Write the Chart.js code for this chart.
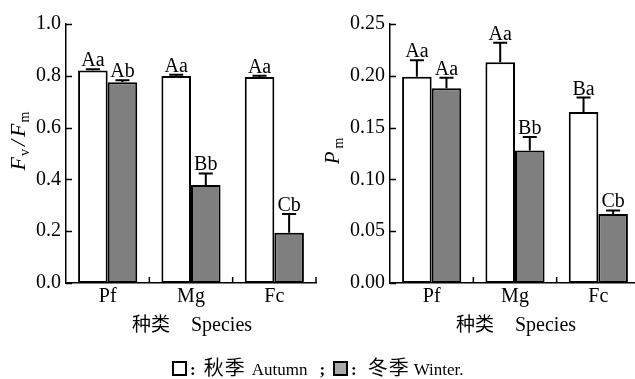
<!DOCTYPE html>
<html>
<head>
<meta charset="utf-8">
<script src="https://cdn.jsdelivr.net/npm/chart.js@4.4.0/dist/chart.umd.min.js"></script>
<style>
  body { margin: 0; width: 635px; height: 379px; overflow: hidden; background: #fff; position: relative; }
  #c1 { position: absolute; left: 0; top: 0; }
  #c2 { position: absolute; left: 324px; top: 0; }
  #legend { position: absolute; left: 172px; top: 352px; line-height: 20px;
            font: 17px "Liberation Serif"; color: #000; white-space: nowrap; }
  .box { display: inline-block; width: 11px; height: 11px; border: 2px solid #000; vertical-align: -1px; background: #fff; }
  .box.gray { background: #aaaaaa; }
  .cjk { font-family: "Noto Sans CJK SC"; font-size: 20px; letter-spacing: 1px; }
  b { font-weight: bold; }
</style>
</head>
<body>
<canvas id="c1" width="320" height="379"></canvas>
<canvas id="c2" width="320" height="379"></canvas>
<div id="legend"><span class="box"></span><b style="margin-left:3px">:</b><span class="cjk" style="margin-left:8px">秋季</span><span style="margin-left:6px">Autumn</span><b style="margin-left:12px">;</b><span class="box gray" style="margin-left:8px"></span><b style="margin-left:3px">:</b><span class="cjk" style="margin-left:11px">冬季</span><span style="margin-left:4px">Winter.</span></div>

<script>
// 数据
const species = ["Pf", "Mg", "Fc"];

const fvfmAutumn = [0.820, 0.799, 0.795];
const fvfmAutumnErr = [0.005, 0.005, 0.005];
const fvfmWinter = [0.775, 0.378, 0.194];
const fvfmWinterErr = [0.008, 0.045, 0.072];
const fvfmAutumnSig = ["Aa", "Aa", "Aa"];
const fvfmWinterSig = ["Ab", "Bb", "Cb"];

const pmAutumn = [0.199, 0.213, 0.165];
const pmAutumnErr = [0.016, 0.019, 0.014];
const pmWinter = [0.188, 0.128, 0.0665];
const pmWinterErr = [0.010, 0.013, 0.0035];
const pmAutumnSig = ["Aa", "Aa", "Ba"];
const pmWinterSig = ["Aa", "Bb", "Cb"];

const serif = "Liberation Serif";

// error bars, letters, inner ticks, axis titles
const extras = {
  id: "extras",
  afterDatasetsDraw(chart, args, opts) {
    const ctx = chart.ctx;
    const ys = chart.scales.y, xs = chart.scales.x;
    const area = chart.chartArea;
    ctx.save();
    ctx.strokeStyle = "#000";
    ctx.fillStyle = "#000";

    chart.data.datasets.forEach((ds, i) => {
      const meta = chart.getDatasetMeta(i);
      meta.data.forEach((bar, j) => {
        const top = ys.getPixelForValue(ds.data[j] + opts.errs[i][j]);
        ctx.lineWidth = 2;
        ctx.beginPath();
        ctx.moveTo(bar.x, bar.y);
        ctx.lineTo(bar.x, top);
        ctx.moveTo(bar.x - 7, top);
        ctx.lineTo(bar.x + 7, top);
        ctx.stroke();
        ctx.font = "20px " + serif;
        ctx.textAlign = "center";
        ctx.textBaseline = "alphabetic";
        ctx.fillText(opts.sigs[i][j], bar.x, top - 3);
      });
    });

    // inner ticks
    ctx.lineWidth = 1.5;
    ctx.beginPath();
    ys.ticks.forEach(t => {
      const y = Math.round(ys.getPixelForValue(t.value)) + 0.5;
      ctx.moveTo(area.left, y);
      ctx.lineTo(area.left + 6, y);
    });
    for (let i = 0; i < species.length; i++) {
      const x = i < species.length - 1
        ? (xs.getPixelForTick(i) + xs.getPixelForTick(i + 1)) / 2
        : area.right;
      ctx.moveTo(x, area.bottom);
      ctx.lineTo(x, area.bottom - 6);
    }
    ctx.stroke();

    // x title
    const cx = (area.left + area.right) / 2;
    ctx.textBaseline = "alphabetic";
    ctx.textAlign = "left";
    ctx.font = "19px 'Noto Sans CJK SC'";
    const w1 = ctx.measureText("种类").width;
    ctx.font = "20px " + serif;
    const w2 = ctx.measureText("Species").width;
    const gap = 21;
    let x0 = cx - (w1 + gap + w2) / 2 + 1;
    ctx.font = "19px 'Noto Sans CJK SC'";
    ctx.fillText("种类", x0, 331);
    ctx.font = "20px " + serif;
    ctx.fillText("Species", x0 + w1 + gap, 331);

    // y title with subscripts
    ctx.translate(opts.titleX, opts.titleY);
    ctx.rotate(-Math.PI / 2);
    let total = 0;
    opts.title.forEach(p => { ctx.font = p.f; total += ctx.measureText(p.t).width + (p.g || 0); });
    let px = -total / 2;
    opts.title.forEach(p => {
      ctx.font = p.f;
      ctx.fillText(p.t, px, p.sub ? 4 : 0);
      px += ctx.measureText(p.t).width + (p.g || 0);
    });
    ctx.restore();
  }
};

function makeChart(id, autumn, winter, errs, sigs, max, step, digits, title, titleX, titleY) {
  return new Chart(document.getElementById(id), {
    type: "bar",
    data: {
      labels: species,
      datasets: [
        { label: "Autumn", data: autumn, backgroundColor: "#ffffff", borderColor: "#000", borderWidth: 2,
          borderSkipped: false, categoryPercentage: 0.71, barPercentage: 1.0 },
        { label: "Winter", data: winter, backgroundColor: "#7f7f7f", borderColor: "#000", borderWidth: 2,
          borderSkipped: false, categoryPercentage: 0.71, barPercentage: 1.0 }
      ]
    },
    options: {
      responsive: false,
      animation: false,
      layout: { padding: { top: 24, right: 4, left: 0, bottom: 0 } },
      plugins: {
        legend: { display: false },
        tooltip: { enabled: false },
        extras: { errs: errs, sigs: sigs, title: title, titleX: titleX, titleY: titleY }
      },
      scales: {
        x: {
          grid: { display: false, drawTicks: false },
          border: { display: true, color: "#000", width: 1.5 },
          ticks: { color: "#000", font: { family: serif, size: 20 }, padding: 2 },
          afterFit: s => { s.height = 96; }
        },
        y: {
          min: 0, max: max,
          grid: { display: false, drawTicks: false },
          border: { display: true, color: "#000", width: 1.5 },
          ticks: { stepSize: step, color: "#000", font: { family: serif, size: 20 }, padding: 5,
                   callback: v => v.toFixed(digits) },
          afterFit: s => { s.width = 66; }
        }
      }
    },
    plugins: [extras]
  });
}

makeChart("c1", fvfmAutumn, fvfmWinter, [fvfmAutumnErr, fvfmWinterErr], [fvfmAutumnSig, fvfmWinterSig],
  1.0, 0.2, 1,
  [{ t: "F", f: "italic 22px " + serif, g: 1 }, { t: "v", f: "14px " + serif, sub: true, g: 3 },
   { t: "/", f: "italic 22px " + serif, g: 3 }, { t: "F", f: "italic 22px " + serif, g: 1 },
   { t: "m", f: "14px " + serif, sub: true }],
  25, 141);

makeChart("c2", pmAutumn, pmWinter, [pmAutumnErr, pmWinterErr], [pmAutumnSig, pmWinterSig],
  0.25, 0.05, 2,
  [{ t: "P", f: "italic 21px " + serif, g: 3 }, { t: "m", f: "14px " + serif, sub: true }],
  15, 151);
</script>
</body>
</html>
